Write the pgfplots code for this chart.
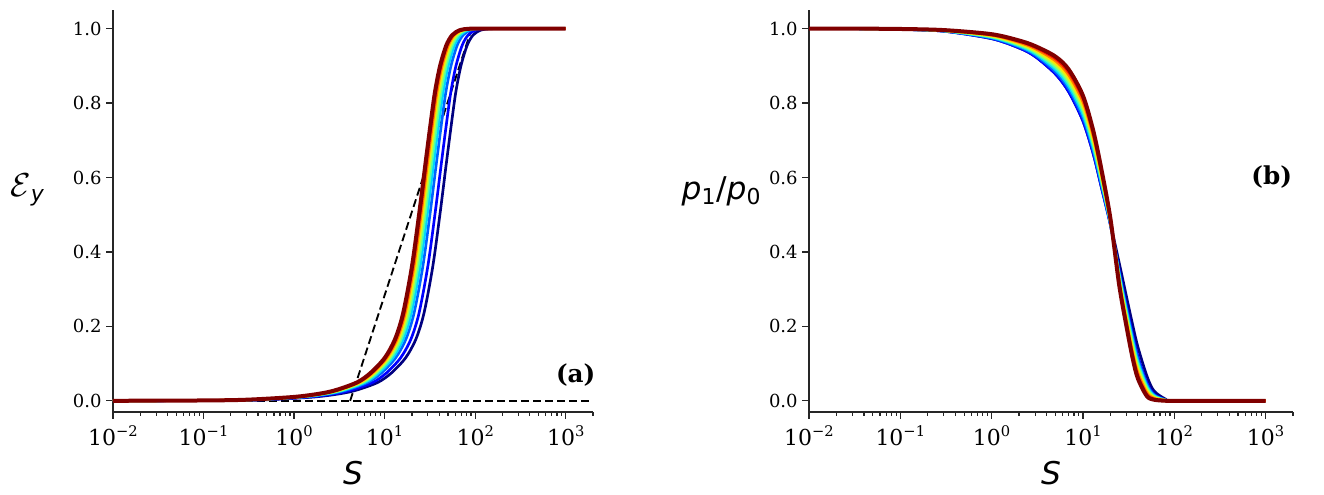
\documentclass[border=0pt]{standalone}
\usepackage{fontspec}
\usepackage{pgfplots}
\usepackage{pgfplotstable}
\pgfplotsset{compat=1.18}
\definecolor{spine}{rgb}{0.15,0.15,0.15}
\IfFontExistsTF{DejaVu Serif}{\setmainfont{DejaVu Serif}}{\definecolor{spine}{rgb}{1,0,0}}
\newfontfamily\labfont{DejaVu Sans}

\definecolor{c0}{rgb}{0,0,0.5}
\definecolor{c1}{rgb}{0,0,1}
\definecolor{c2}{rgb}{0,0.389,1}
\definecolor{c3}{rgb}{0,0.833,1}
\definecolor{c4}{rgb}{0.303,1,0.665}
\definecolor{c5}{rgb}{0.664,1,0.303}
\definecolor{c6}{rgb}{1,0.9,0}
\definecolor{c7}{rgb}{1,0.489,0}
\definecolor{c8}{rgb}{1,0.078,0}
\definecolor{c9}{rgb}{0.5,0,0}

% Left panel: y and S for each curve (c0 ... c9)
\pgfplotstableread{
y      s0     s1     s2     s3     s4     s5     s6     s7     s8     s9
0.0001 0.01   0.01   0.01   0.01   0.01   0.01   0.01   0.01   0.01   0.01
0.001  0.170  0.150  0.132  0.123  0.117  0.112  0.108  0.105  0.102  0.1
0.003  0.509  0.449  0.395  0.369  0.351  0.337  0.325  0.316  0.307  0.3
0.0105 1.698  1.496  1.318  1.23   1.169  1.122  1.084  1.052  1.023  1
0.02   3.396  2.992  2.636  2.46   2.338  2.244  2.168  2.104  2.046  2
0.03   5.094  4.488  3.954  3.69   3.507  3.366  3.252  3.156  3.069  3
0.05   8.49   7.48   6.59   6.15   5.845  5.61   5.42   5.26   5.115  5
0.075  11.89  10.47  9.226  8.61   8.183  7.854  7.588  7.364  7.161  7
0.115  16.98  14.96  13.18  12.3   11.69  11.22  10.84  10.52  10.23  10
0.165  22.07  19.45  17.13  15.99  15.2   14.59  14.09  13.68  13.3   13
0.235  27.17  23.94  21.09  19.68  18.7   17.95  17.34  16.83  16.37  16
0.36   33.96  29.92  26.36  24.6   23.38  22.44  21.68  21.04  20.46  20
0.5    40.75  35.9   31.63  29.52  28.06  26.93  26.02  25.25  24.55  24
0.63   47.54  41.89  36.9   34.44  32.73  31.42  30.35  29.46  28.64  28
0.74   54.34  47.87  42.18  39.36  37.41  35.9   34.69  33.66  32.74  32
0.83   61.13  53.86  47.45  44.28  42.08  40.39  39.02  37.87  36.83  36
0.9    69.62  61.34  54.04  50.43  47.93  46.0   44.44  43.13  41.94  41
0.955  81.5   71.81  63.26  59.04  56.11  53.86  52.03  50.5   49.1   48
0.983  95.1   83.78  73.81  68.88  65.46  62.83  60.7   58.91  57.29  56
0.996  115.5  101.7  89.62  83.64  79.49  76.3   73.71  71.54  69.56  68
0.9995 144.3  127.2  112.0  104.6  99.37  95.37  92.14  89.42  86.96  85
1      203.8  179.5  158.2  147.6  140.3  134.6  130.1  126.2  122.8  120
1      1000   1000   1000   1000   1000   1000   1000   1000   1000   1000
}\leftdata

% Right panel: S and p1/p0 for each curve (c0 ... c9)
\pgfplotstableread{
S     r0     r1     r2     r3     r4     r5     r6     r7     r8     r9
0.01  1      1      1      1      1      1      1      1      1      1
0.03  1      1      1      1      1      1      1      1      1      1
0.1   0.998  0.998  0.998  0.998  0.998  0.9985 0.9986 0.9988 0.9989 0.999
0.3   0.993  0.993  0.9934 0.9938 0.9941 0.9945 0.9949 0.9953 0.9956 0.996
1     0.973  0.973  0.9745 0.976  0.9775 0.979  0.9805 0.982  0.9835 0.985
2     0.948  0.948  0.9505 0.953  0.9555 0.958  0.9605 0.963  0.9655 0.968
3     0.925  0.925  0.9285 0.932  0.9355 0.939  0.9425 0.946  0.9495 0.953
5     0.878  0.878  0.8839 0.8898 0.8956 0.9015 0.9074 0.9133 0.9191 0.925
7     0.830  0.830  0.8375 0.845  0.8525 0.860  0.8675 0.875  0.8825 0.890
10    0.752  0.752  0.7605 0.769  0.7775 0.786  0.7945 0.803  0.8115 0.820
13    0.663  0.663  0.6708 0.6785 0.6863 0.694  0.7018 0.7095 0.7173 0.725
16    0.572  0.572  0.578  0.584  0.590  0.596  0.602  0.608  0.614  0.620
20    0.476  0.472  0.4743 0.4765 0.4788 0.481  0.4833 0.4855 0.4878 0.490
25    0.370  0.350  0.345  0.340  0.335  0.330  0.325  0.320  0.315  0.310
30    0.280  0.255  0.2481 0.2413 0.2344 0.2275 0.2206 0.2138 0.2069 0.200
35    0.205  0.180  0.1719 0.1638 0.1556 0.1475 0.1394 0.1313 0.1231 0.115
40    0.145  0.120  0.1125 0.105  0.0975 0.090  0.0825 0.075  0.0675 0.060
50    0.068  0.050  0.0454 0.0408 0.0361 0.0315 0.0269 0.0223 0.0176 0.013
60    0.027  0.018  0.0161 0.0143 0.0124 0.0105 0.0086 0.0068 0.0049 0.003
80    0.005  0.003  0.0027 0.0023 0.0020 0.0017 0.0013 0.0010 0.0007 0.0003
100   0.001  0.0004 0.00035 0.0003 0.00025 0.0002 0.00015 0.0001 0.00005 0
1000  0      0      0      0      0      0      0      0      0      0
}\rightdata

\newcommand{\sexp}[1]{10\raisebox{6.5pt}{\fontsize{11}{13}\selectfont #1}}

\begin{document}
\begin{tikzpicture}
\useasboundingbox (0,0) rectangle (993pt,371.25pt);

\begin{axis}[at={(84.75pt,62.25pt)}, anchor=south west,
    scale only axis, width=360pt, height=301.5pt,
    xmode=log, xmin=0.01, xmax=2000, ymin=-0.03, ymax=1.05,
    axis lines=left, axis line style={-, line width=1.1pt, spine},
    tick align=outside, major tick length=5pt, minor tick length=2.8pt,
    tick style={spine, line width=0.9pt},
    xtick={0.01,0.1,1,10,100,1000},
    minor xtick={0.02,0.03,0.04,0.05,0.06,0.07,0.08,0.09,0.2,0.3,0.4,0.5,0.6,0.7,0.8,0.9,2,3,4,5,6,7,8,9,20,30,40,50,60,70,80,90,200,300,400,500,600,700,800,900,2000},
    xticklabels={\sexp{−2},\sexp{−1},\sexp{0},\sexp{1},\sexp{2},\sexp{3}},
    xticklabel style={font=\fontsize{16.5}{19}\selectfont, anchor=base, inner sep=0pt, yshift=-20pt},
    ytick={0,0.2,0.4,0.6,0.8,1},
    yticklabels={0.0,0.2,0.4,0.6,0.8,1.0},
    yticklabel style={font=\fontsize{13.5}{16}\selectfont},
    xlabel={S}, ylabel={\fontsize{27}{30}\selectfont$\mathcal{E}$\fontsize{23.5}{28}\selectfont\textsubscript{\labfont\itshape y}},
    xlabel style={at={(axis description cs:0.5,-0.1816)}, anchor=base, font=\fontsize{23.5}{28}\selectfont\labfont\itshape},
    ylabel style={at={(axis description cs:-0.178,0.5)}, anchor=south, rotate=-90, font=\fontsize{23.5}{28}\selectfont},
    clip=false]
\addplot[black, line width=1.4pt, dash pattern=on 6pt off 3pt] coordinates {(0.01,0) (2000,0)};
\addplot[black, line width=1.4pt, dash pattern=on 6pt off 3pt] coordinates {(4.16,0) (91.6,1)};
\addplot[c0, line width=2pt, smooth, tension=0.5] table[x=s0,y=y] {\leftdata};
\addplot[c1, line width=2pt, smooth, tension=0.5] table[x=s1,y=y] {\leftdata};
\addplot[c2, line width=2pt, smooth, tension=0.5] table[x=s2,y=y] {\leftdata};
\addplot[c3, line width=2pt, smooth, tension=0.5] table[x=s3,y=y] {\leftdata};
\addplot[c4, line width=2pt, smooth, tension=0.5] table[x=s4,y=y] {\leftdata};
\addplot[c5, line width=2pt, smooth, tension=0.5] table[x=s5,y=y] {\leftdata};
\addplot[c6, line width=2pt, smooth, tension=0.5] table[x=s6,y=y] {\leftdata};
\addplot[c7, line width=2pt, smooth, tension=0.5] table[x=s7,y=y] {\leftdata};
\addplot[c8, line width=2pt, smooth, tension=0.5] table[x=s8,y=y] {\leftdata};
\addplot[c9, line width=3pt, smooth, tension=0.5] table[x=s9,y=y] {\leftdata};
\node[font=\fontsize{18.5}{22}\selectfont\bfseries] at (axis description cs:0.964,0.092) {(a)};
\end{axis}

\begin{axis}[at={(606.75pt,62.25pt)}, anchor=south west,
    scale only axis, width=363pt, height=301.5pt,
    xmode=log, xmin=0.01, xmax=2000, ymin=-0.03, ymax=1.05,
    axis lines=left, axis line style={-, line width=1.1pt, spine},
    tick align=outside, major tick length=5pt, minor tick length=2.8pt,
    tick style={spine, line width=0.9pt},
    xtick={0.01,0.1,1,10,100,1000},
    minor xtick={0.02,0.03,0.04,0.05,0.06,0.07,0.08,0.09,0.2,0.3,0.4,0.5,0.6,0.7,0.8,0.9,2,3,4,5,6,7,8,9,20,30,40,50,60,70,80,90,200,300,400,500,600,700,800,900,2000},
    xticklabels={\sexp{−2},\sexp{−1},\sexp{0},\sexp{1},\sexp{2},\sexp{3}},
    xticklabel style={font=\fontsize{16.5}{19}\selectfont, anchor=base, inner sep=0pt, yshift=-20pt},
    ytick={0,0.2,0.4,0.6,0.8,1},
    yticklabels={0.0,0.2,0.4,0.6,0.8,1.0},
    yticklabel style={font=\fontsize{13.5}{16}\selectfont},
    xlabel={S}, ylabel={\labfont\itshape p\textsubscript{\upshape 1}\upshape/\itshape p\textsubscript{\upshape 0}},
    xlabel style={at={(axis description cs:0.5,-0.1816)}, anchor=base, font=\fontsize{23.5}{28}\selectfont\labfont\itshape},
    ylabel style={at={(axis description cs:-0.181,0.5)}, anchor=south, rotate=-90, font=\fontsize{23.5}{28}\selectfont},
    clip=false]
\addplot[c0, line width=2pt, smooth, tension=0.5] table[x=S,y=r0] {\rightdata};
\addplot[c1, line width=2pt, smooth, tension=0.5] table[x=S,y=r1] {\rightdata};
\addplot[c2, line width=2pt, smooth, tension=0.5] table[x=S,y=r2] {\rightdata};
\addplot[c3, line width=2pt, smooth, tension=0.5] table[x=S,y=r3] {\rightdata};
\addplot[c4, line width=2pt, smooth, tension=0.5] table[x=S,y=r4] {\rightdata};
\addplot[c5, line width=2pt, smooth, tension=0.5] table[x=S,y=r5] {\rightdata};
\addplot[c6, line width=2pt, smooth, tension=0.5] table[x=S,y=r6] {\rightdata};
\addplot[c7, line width=2pt, smooth, tension=0.5] table[x=S,y=r7] {\rightdata};
\addplot[c8, line width=2pt, smooth, tension=0.5] table[x=S,y=r8] {\rightdata};
\addplot[c9, line width=3pt, smooth, tension=0.5] table[x=S,y=r9] {\rightdata};
\node[font=\fontsize{18.5}{22}\selectfont\bfseries] at (axis description cs:0.956,0.585) {(b)};
\end{axis}
\end{tikzpicture}
\end{document}
